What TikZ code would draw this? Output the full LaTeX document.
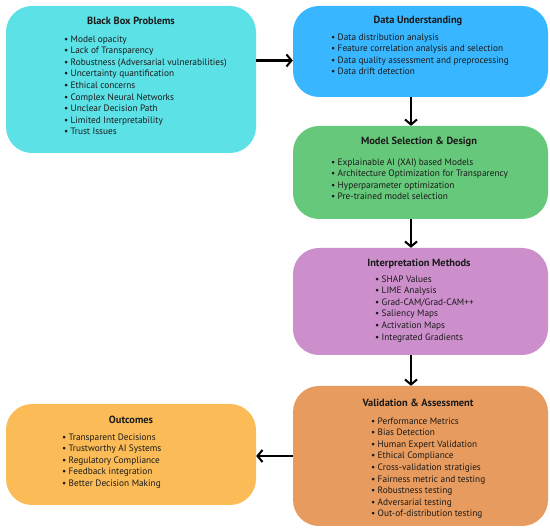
\documentclass[tikz,border=0pt]{standalone}
\usepackage{fontspec}
\setmainfont{PT Sans}
\usepackage{tikz}
\usetikzlibrary{positioning,arrows.meta,calc}

\definecolor{bbcyan}{HTML}{5CE1E6}
\definecolor{dublue}{HTML}{38B6FF}
\definecolor{msgreen}{HTML}{66C87B}
\definecolor{impurple}{HTML}{CC8FCC}
\definecolor{vaorange}{HTML}{E79B5E}
\definecolor{ocyellow}{HTML}{FBBC57}
\definecolor{ink}{HTML}{1A1A1A}

\newcommand{\itm}{\makebox[6.5pt][l]{\textbullet}}

\begin{document}
\begin{tikzpicture}[x=1pt, y=-1pt,
    box/.style={rounded corners=26pt, inner sep=0pt},
    ttl/.style={font=\fontsize{10.4}{12}\selectfont\bfseries, text=ink, inner sep=0pt},
    lst/.style={font=\fontsize{9.3}{11.55}\selectfont, text=ink, align=left, anchor=north west, inner sep=0pt},
    arr/.style={-{Straight Barb[length=5pt,width=12pt,line width=2pt]}, line width=2.2pt, black}]
      \useasboundingbox (0,0) rectangle (550,529);
      % boxes
      \node[box, fill=bbcyan, minimum width=250pt, minimum height=147pt] (bb) at (131,79.5) {};
      \node[box, fill=dublue, minimum width=255pt, minimum height=91pt] (du) at (420.5,51.5) {};
      \node[box, fill=msgreen, minimum width=255pt, minimum height=93pt] (ms) at (420.5,172.5) {};
      \node[box, fill=impurple, minimum width=255pt, minimum height=107pt] (im) at (420.5,301.5) {};
      \node[box, fill=vaorange, minimum width=255pt, minimum height=140pt] (va) at (420.5,456) {};
      \node[box, fill=ocyellow, minimum width=250pt, minimum height=101pt] (oc) at (131,454.5) {};
      % titles
      \node[ttl] (bb-t) at (131,20.5) {Black Box Problems};
      \node[ttl] (du-t) at (418,20.5) {Data Understanding};
      \node[ttl] (ms-t) at (419,141.5) {Model Selection \& Design};
      \node[ttl] (im-t) at (419,263.5) {Interpretation Methods};
      \node[ttl] (va-t) at (418,402.5) {Validation \& Assessment};
      \node[ttl] (oc-t) at (131,419.5) {Outcomes};
      % lists
      \node[lst] (bb-l) at (64,35.5) {\itm Model opacity\\ \itm Lack of Transparency\\
        \itm Robustness (Adversarial vulnerabilities)\\ \itm Uncertainty quantification\\
        \itm Ethical concerns\\ \itm Complex Neural Networks\\ \itm Unclear Decision Path\\
        \itm Limited Interpretability\\ \itm Trust Issues};
      \node[lst] (du-l) at (331,33.5) {\itm Data distribution analysis\\
        \itm Feature correlation analysis and selection\\
        \itm Data quality assessment and preprocessing\\ \itm Data drift detection};
      \node[lst] (ms-l) at (331,158.5) {\itm Explainable AI (XAI) based Models\\
        \itm Architecture Optimization for Transparency\\
        \itm Hyperparameter optimization\\ \itm Pre-trained model selection};
      \node[lst] (im-l) at (375,275.5) {\itm SHAP Values\\ \itm LIME Analysis\\
        \itm Grad-CAM/Grad-CAM++\\ \itm Saliency Maps\\ \itm Activation Maps\\
        \itm Integrated Gradients};
      \node[lst] (va-l) at (371,417.5) {\itm Performance Metrics\\ \itm Bias Detection\\
        \itm Human Expert Validation\\ \itm Ethical Compliance\\
        \itm Cross-validation stratigies\\ \itm Fairness metric and testing\\
        \itm Robustness testing\\ \itm Adversarial testing\\
        \itm Out-of-distribution testing};
      \node[lst] (oc-l) at (62,433.5) {\itm Transparent Decisions\\ \itm Trustworthy AI Systems\\
        \itm Regulatory Compliance\\ \itm Feedback integration\\
        \itm Better Decision Making};
      % arrows
      \draw[arr] (bb.east |- 0,60.5) -- (du.west |- 0,60.5);
      \draw[arr] (du.south -| 411,0) -- (ms.north -| 411,0);
      \draw[arr] (ms.south -| 411,0) -- (im.north -| 411,0);
      \draw[arr] (im.south -| 411,0) -- (va.north -| 411,0);
      \draw[arr] (va.west) -- (oc.east |- va.west);
\end{tikzpicture}
\end{document}
